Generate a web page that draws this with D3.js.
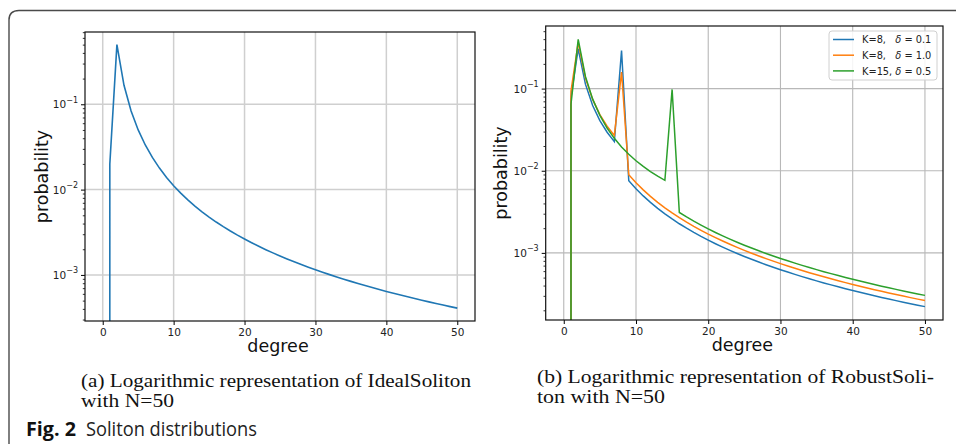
<!DOCTYPE html>
<html>
<head>
<meta charset="utf-8">
<script src="https://cdn.jsdelivr.net/npm/d3@7/dist/d3.min.js"></script>
<style>
  html, body { margin: 0; padding: 0; background: #fff; }
  svg { display: block; }
</style>
</head>
<body>
<svg id="fig" width="956" height="444"></svg>
<script>
// Degree axis (0..50) shared by all curves
const degrees = [
  0, 1, 2, 3, 4, 5, 6, 7, 8, 9, 10,
  11, 12, 13, 14, 15, 16, 17, 18, 19, 20,
  21, 22, 23, 24, 25, 26, 27, 28, 29, 30,
  31, 32, 33, 34, 35, 36, 37, 38, 39, 40,
  41, 42, 43, 44, 45, 46, 47, 48, 49, 50
];

// Ideal soliton, N = 50
const idealSoliton = [
  0, 0.02, 0.5, 0.1667, 0.08333, 0.05, 0.03333, 0.02381, 0.01786, 0.01389, 0.01111,
  0.009091, 0.007576, 0.006410, 0.005495, 0.004762, 0.004167, 0.003676, 0.003268, 0.002924, 0.002632,
  0.002381, 0.002165, 0.001976, 0.001812, 0.001667, 0.001538, 0.001425, 0.001323, 0.001232, 0.001149,
  0.001075, 0.001008, 0.0009470, 0.0008913, 0.0008403, 0.0007937, 0.0007508, 0.0007112, 0.0006748, 0.0006410,
  0.0006098, 0.0005807, 0.0005537, 0.0005285, 0.0005051, 0.0004831, 0.0004625, 0.0004433, 0.0004252, 0.0004082
];

// Robust soliton, N = 50
const robustK8d01 = [
  0, 0.07876, 0.3055, 0.1132, 0.06224, 0.04074, 0.02942, 0.02263, 0.2905, 0.007544, 0.006035,
  0.004938, 0.004115, 0.003482, 0.002985, 0.002587, 0.002263, 0.001997, 0.001775, 0.001588, 0.001429,
  0.001293, 0.001176, 0.001074, 0.0009840, 0.0009053, 0.0008357, 0.0007738, 0.0007185, 0.0006689, 0.0006243,
  0.0005841, 0.0005476, 0.0005144, 0.0004841, 0.0004565, 0.0004311, 0.0004078, 0.0003863, 0.0003665, 0.0003482,
  0.0003312, 0.0003154, 0.0003008, 0.0002871, 0.0002743, 0.0002624, 0.0002512, 0.0002408, 0.0002310, 0.0002217
];
const robustK8d10 = [
  0, 0.09336, 0.3622, 0.1341, 0.07377, 0.04829, 0.03488, 0.02683, 0.1590, 0.008942, 0.007154,
  0.005853, 0.004878, 0.004127, 0.003538, 0.003066, 0.002683, 0.002367, 0.002104, 0.001883, 0.001694,
  0.001533, 0.001394, 0.001272, 0.001166, 0.001073, 0.0009905, 0.0009172, 0.0008517, 0.0007929, 0.0007400,
  0.0006923, 0.0006491, 0.0006097, 0.0005738, 0.0005411, 0.0005110, 0.0004834, 0.0004579, 0.0004344, 0.0004127,
  0.0003926, 0.0003739, 0.0003565, 0.0003403, 0.0003252, 0.0003110, 0.0002978, 0.0002854, 0.0002737, 0.0002628
];
const robustK15d05 = [
  0, 0.06452, 0.3970, 0.1406, 0.07445, 0.04715, 0.03309, 0.02482, 0.01950, 0.01585, 0.01324,
  0.01128, 0.009776, 0.008590, 0.007636, 0.09770, 0.003102, 0.002737, 0.002433, 0.002177, 0.001959,
  0.001773, 0.001611, 0.001471, 0.001349, 0.001241, 0.001145, 0.001061, 0.0009848, 0.0009168, 0.0008557,
  0.0008005, 0.0007505, 0.0007050, 0.0006635, 0.0006256, 0.0005909, 0.0005589, 0.0005295, 0.0005023, 0.0004772,
  0.0004539, 0.0004323, 0.0004122, 0.0003935, 0.0003760, 0.0003597, 0.0003443, 0.0003300, 0.0003165, 0.0003039
];

const xTicks = [0, 10, 20, 30, 40, 50];
const legendLabels = [["K=8,", "0.1"], ["K=8,", "1.0"], ["K=15,", "0.5"]];
const seriesColors = ["#1f77b4", "#ff7f0e", "#2ca02c"];

const svg = d3.select("#fig");
svg.append("rect").attr("width", 956).attr("height", 444).attr("fill", "#fff");

// Figure frame (open on the right and bottom)
svg.append("path")
  .attr("d", "M9,444 L9,20 Q9,10.5 19,10.5 L956,10.5")
  .attr("fill", "none").attr("stroke", "#4a4a4a").attr("stroke-width", 1.4);

function drawPanel(o) {
  const g = svg.append("g");
  const x = d3.scaleLinear().domain([-2.5, 52.5]).range([o.left, o.right]);
  const y = d3.scaleLog().domain(o.yDomain).range([o.bottom, o.top]);
  const allTicks = y.ticks();
  const isMajor = v => Math.abs(Math.log10(v) - Math.round(Math.log10(v))) < 1e-9;
  const majors = allTicks.filter(isMajor);
  const minors = allTicks.filter(v => !isMajor(v));

  const clipId = "clip-" + o.id;
  g.append("clipPath").attr("id", clipId)
    .append("rect").attr("x", o.left).attr("y", o.top)
    .attr("width", o.right - o.left).attr("height", o.bottom - o.top);

  // grid
  g.append("g").selectAll("line").data(xTicks).join("line")
    .attr("x1", d => x(d)).attr("x2", d => x(d))
    .attr("y1", o.top).attr("y2", o.bottom)
    .attr("stroke", o.gridColor).attr("stroke-width", o.gridWidth);
  g.append("g").selectAll("line").data(majors).join("line")
    .attr("x1", o.left).attr("x2", o.right)
    .attr("y1", d => y(d)).attr("y2", d => y(d))
    .attr("stroke", o.gridColor).attr("stroke-width", o.gridWidth);

  // curves; zero probabilities drop far below the plot and get clipped
  const yv = v => v > 0 ? y(v) : o.bottom + 1e6;
  const line = d3.line().x((d, i) => x(degrees[i])).y(d => yv(d));
  const curves = g.append("g").attr("clip-path", `url(#${clipId})`);
  o.series.forEach((s, i) => {
    curves.append("path").attr("d", line(s))
      .attr("fill", "none").attr("stroke", seriesColors[i])
      .attr("stroke-width", o.lineWidth).attr("stroke-linejoin", "miter");
  });

  // x axis
  const xAxis = d3.axisBottom(x).tickValues(xTicks).tickSize(4).tickPadding(4)
    .tickFormat(d3.format("d"));
  const gx = g.append("g").attr("transform", `translate(0,${o.bottom})`).call(xAxis);
  gx.select(".domain").remove();
  gx.selectAll("line").attr("stroke", "#000").attr("stroke-width", 1);
  gx.selectAll("text").attr("font-family", "DejaVu Sans").attr("font-size", o.tickFont)
    .attr("fill", "#222");

  // y axis: major and minor ticks
  const gyMinor = g.append("g").attr("transform", `translate(${o.left},0)`)
    .call(d3.axisLeft(y).tickValues(minors).tickSize(2.2).tickFormat(""));
  gyMinor.select(".domain").remove();
  gyMinor.selectAll("line").attr("stroke", "#000").attr("stroke-width", 0.8);
  const gyMajor = g.append("g").attr("transform", `translate(${o.left},0)`)
    .call(d3.axisLeft(y).tickValues(majors).tickSize(4).tickFormat(""));
  gyMajor.select(".domain").remove();
  gyMajor.selectAll("line").attr("stroke", "#000").attr("stroke-width", 1);

  const labels = g.append("g").selectAll("text").data(majors).join("text")
    .attr("x", o.left - 7).attr("y", d => y(d) + 4)
    .attr("text-anchor", "end")
    .attr("font-family", "DejaVu Sans").attr("font-size", o.tickFont)
    .attr("fill", "#222");
  labels.append("tspan").text("10");
  labels.append("tspan").attr("dy", -5.5).attr("font-size", o.tickFont - 2.5)
    .text(d => "\u2212" + Math.round(-Math.log10(d)));

  // spines
  g.append("rect").attr("x", o.left).attr("y", o.top)
    .attr("width", o.right - o.left).attr("height", o.bottom - o.top)
    .attr("fill", "none").attr("stroke", "#111").attr("stroke-width", 1.2);

  // axis titles
  g.append("text").attr("x", (o.left + o.right) / 2 - 2).attr("y", o.bottom + 31)
    .attr("text-anchor", "middle").attr("font-family", "DejaVu Sans")
    .attr("font-size", 17.5).attr("fill", "#111").text("degree");
  g.append("text")
    .attr("transform", `translate(${o.yTitleX},${(o.top + o.bottom) / 2}) rotate(-90)`)
    .attr("text-anchor", "middle").attr("font-family", "DejaVu Sans")
    .attr("font-size", 17.5).attr("fill", "#111").text("probability");

  return { g, x, y };
}

drawPanel({
  id: "ideal", left: 85, right: 475, top: 32, bottom: 321,
  yDomain: [Math.pow(10, -3.54), Math.pow(10, -0.153)],
  series: [idealSoliton], lineWidth: 1.6,
  gridColor: "#cfcfcf", gridWidth: 1.5, tickFont: 10.5, yTitleX: 48
});

drawPanel({
  id: "robust", left: 545.7, right: 943, top: 26, bottom: 320,
  yDomain: [Math.pow(10, -3.817), Math.pow(10, -0.238)],
  series: [robustK8d01, robustK8d10, robustK15d05], lineWidth: 1.5,
  gridColor: "#b8b8b8", gridWidth: 1.1, tickFont: 10.5, yTitleX: 507
});

// legend
const lg = svg.append("g");
lg.append("rect").attr("x", 829).attr("y", 31).attr("width", 108).attr("height", 49)
  .attr("rx", 3).attr("fill", "#fff").attr("fill-opacity", 0.85)
  .attr("stroke", "#d0d0d0").attr("stroke-width", 1);
const legendFont = 9.8;
// align the delta column after the widest "K=..," prefix
const probe = lg.append("text").attr("font-family", "DejaVu Sans").attr("font-size", legendFont)
  .text(legendLabels.map(l => l[0]).reduce((a, b) => (b.length > a.length ? b : a)) + "\u00a0");
const deltaX = 862 + probe.node().getComputedTextLength();
probe.remove();
legendLabels.forEach((lab, i) => {
  const cy = 39.5 + i * 15.7;
  lg.append("line").attr("x1", 833).attr("x2", 854).attr("y1", cy).attr("y2", cy)
    .attr("stroke", seriesColors[i]).attr("stroke-width", 1.5);
  const t = lg.append("text").attr("x", 862).attr("y", cy + 3.6)
    .attr("font-family", "DejaVu Sans").attr("font-size", legendFont).attr("fill", "#222");
  t.append("tspan").text(lab[0]);
  t.append("tspan").attr("x", deltaX).attr("font-style", "italic").text("\u03b4");
  t.append("tspan").text(" = " + lab[1]);
});

// sub-figure captions
const serif = "'Liberation Serif', 'DejaVu Serif', serif";
function caption(txt, x, y, w) {
  svg.append("text").attr("x", x).attr("y", y)
    .attr("font-family", serif).attr("font-size", 18.5).attr("fill", "#111")
    .attr("textLength", w).attr("lengthAdjust", "spacingAndGlyphs").text(txt);
}
caption("(a) Logarithmic representation of IdealSoliton", 81, 386.5, 390);
caption("with N=50", 81, 406.5, 93);
caption("(b) Logarithmic representation of RobustSoli-", 537, 382.5, 397);
caption("ton with N=50", 537, 402.5, 128);

// figure caption
svg.append("text").attr("x", 26).attr("y", 436)
  .attr("font-family", "'Open Sans', sans-serif").attr("font-weight", 700)
  .attr("font-size", 20).attr("fill", "#111")
  .attr("textLength", 50).attr("lengthAdjust", "spacingAndGlyphs").text("Fig. 2");
svg.append("text").attr("x", 86).attr("y", 436)
  .attr("font-family", "'Open Sans', sans-serif").attr("font-weight", 400)
  .attr("font-size", 20).attr("fill", "#222")
  .attr("textLength", 171).attr("lengthAdjust", "spacingAndGlyphs").text("Soliton distributions");
</script>
</body>
</html>
